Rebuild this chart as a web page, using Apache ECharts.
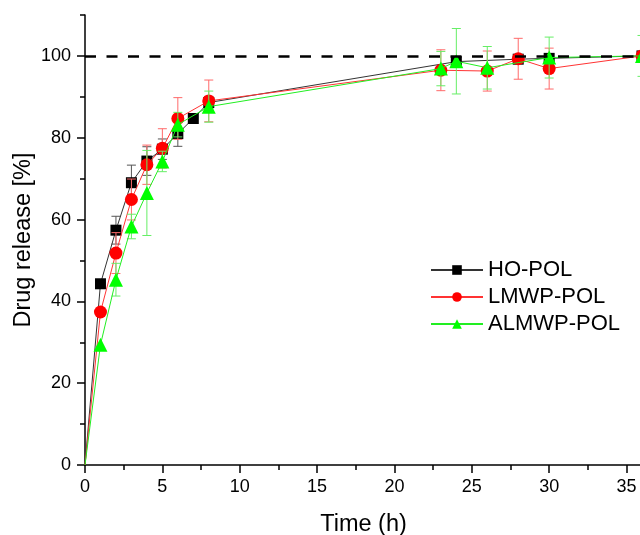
<!DOCTYPE html>
<html>
<head>
<meta charset="UTF-8" />
<title>Drug release</title>
<script src="https://cdn.jsdelivr.net/npm/echarts@6/dist/echarts.min.js"></script>
</head>
<body style="margin:0;padding:0;">
<div id="chart" style="width:640px;height:535px;"></div>
<script>
// values
var hoTime   = [0, 1, 2, 3, 4, 5, 6, 7, 8, 24, 28, 30, 36];
var hoValue  = [0, 44.3, 57.4, 69.0, 74.3, 77.2, 81.0, 84.7, 88.6, 98.6, 99.2, 99.4, 100];
var hoError  = [0, 0, 3.4, 4.3, 3.5, 2.5, 3.1, 0, 1.5, 1, 1, 1, 0];

var lmTime   = [0, 1, 2, 3, 4, 5, 6, 8, 23, 26, 28, 30, 36];
var lmValue  = [0, 37.4, 51.8, 64.9, 73.4, 77.4, 84.7, 89.0, 96.5, 96.3, 99.3, 96.9, 100];
var lmError  = [0, 0, 5, 5, 4.8, 4.8, 5.1, 5.1, 5, 4.9, 5, 5, 0];

var alTime   = [0, 1, 2, 3, 4, 5, 6, 8, 23, 24, 26, 30, 36];
var alValue  = [0, 29.4, 45.3, 58.3, 66.5, 74.2, 83.2, 87.6, 96.9, 98.7, 97.1, 99.6, 100];
var alError  = [0, 0, 4, 3, 10.4, 2.5, 3, 3.8, 4.2, 8, 5.2, 5, 5];

var seriesNames = ['HO-POL', 'LMWP-POL', 'ALMWP-POL'];
var xMajorTicks = [0, 5, 10, 15, 20, 25, 30, 35];
var xMinorTicks = [2.5, 7.5, 12.5, 17.5, 22.5, 27.5, 32.5];
var yMajorTicks = [0, 20, 40, 60, 80, 100];
var yMinorTicks = [10, 30, 50, 70, 90, 110];
var refLevel = 100;

function pairs(t, v) {
  return t.map(function (x, i) { return [x, v[i]]; });
}
function triples(t, v, e) {
  return t.map(function (x, i) { return [x, v[i], e[i]]; });
}
// markers sitting on the origin are clipped away in the original
function sizeOf(s) {
  return function (val) { return val[0] === 0 ? 0 : s; };
}

// draws vertical error bars with caps
function errorBars(color) {
  return function (params, api) {
    var x = api.value(0), y = api.value(1), e = api.value(2);
    if (!e) return null;
    var top = api.coord([x, y + e]);
    var bot = api.coord([x, y - e]);
    var hw = 4.5;
    var st = { stroke: color, lineWidth: 1 };
    return {
      type: 'group',
      children: [
        { type: 'line', shape: { x1: top[0], y1: top[1], x2: bot[0], y2: bot[1] }, style: st },
        { type: 'line', shape: { x1: top[0] - hw, y1: top[1], x2: top[0] + hw, y2: top[1] }, style: st },
        { type: 'line', shape: { x1: bot[0] - hw, y1: bot[1], x2: bot[0] + hw, y2: bot[1] }, style: st }
      ]
    };
  };
}

var chart = echarts.init(document.getElementById('chart'));

var axisLine = { show: true, lineStyle: { color: '#000', width: 1.5 } };

var option = {
  animation: false,
  textStyle: { fontFamily: 'Liberation Sans, Arial, sans-serif' },
  grid: { left: 85, right: -2, top: 15, bottom: 70, outerBoundsMode: 'none', containLabel: false },
  legend: {
    data: seriesNames,
    orient: 'vertical',
    left: 430,
    top: 259,
    padding: 0,
    itemWidth: 52,
    itemHeight: 12,
    itemGap: 5,
    textStyle: { fontSize: 22, color: '#000' }
  },
  xAxis: [{
    type: 'value', min: 0, max: 36,
    name: 'Time (h)', nameLocation: 'middle', nameGap: 48,
    nameTextStyle: { fontSize: 23.5, color: '#000' },
    axisLine: axisLine, splitLine: { show: false },
    axisTick: { show: true, customValues: xMajorTicks, length: 8, lineStyle: { color: '#000', width: 1.5 } },
    axisLabel: { customValues: xMajorTicks, fontSize: 18, color: '#000', margin: 13 }
  }, {
    type: 'value', min: 0, max: 36, position: 'bottom',
    axisLine: { show: false }, splitLine: { show: false },
    axisLabel: { show: false },
    axisTick: { show: true, customValues: xMinorTicks, length: 5, lineStyle: { color: '#000', width: 1.5 } }
  }],
  yAxis: [{
    type: 'value', min: 0, max: 110,
    name: 'Drug release [%]', nameLocation: 'middle', nameGap: 49, nameMoveOverlap: false,
    nameTextStyle: { fontSize: 23.5, color: '#000' },
    axisLine: axisLine, splitLine: { show: false },
    axisTick: { show: true, customValues: yMajorTicks, length: 8, lineStyle: { color: '#000', width: 1.5 } },
    axisLabel: { customValues: yMajorTicks, fontSize: 18, color: '#000', margin: 14 }
  }, {
    type: 'value', min: 0, max: 110, position: 'left',
    axisLine: { show: false }, splitLine: { show: false },
    axisLabel: { show: false },
    axisTick: { show: true, customValues: yMinorTicks, length: 5, lineStyle: { color: '#000', width: 1.5 } }
  }],
  series: [
    {
      type: 'custom', renderItem: errorBars('#555555'), z: 2,
      encode: { x: 0, y: 1 }, data: triples(hoTime, hoValue, hoError), silent: true
    },
    {
      name: seriesNames[0], type: 'line', z: 3,
      symbol: 'rect', symbolSize: sizeOf(11),
      itemStyle: { color: '#000' },
      lineStyle: { color: '#333', width: 1 },
      data: pairs(hoTime, hoValue)
    },
    {
      type: 'custom', renderItem: errorBars('#ff6a6a'), z: 4,
      encode: { x: 0, y: 1 }, data: triples(lmTime, lmValue, lmError), silent: true
    },
    {
      name: seriesNames[1], type: 'line', z: 5,
      symbol: 'circle', symbolSize: sizeOf(13),
      itemStyle: { color: '#ff0000' },
      lineStyle: { color: '#ff3333', width: 1 },
      data: pairs(lmTime, lmValue)
    },
    {
      type: 'custom', renderItem: errorBars('#66ee66'), z: 6,
      encode: { x: 0, y: 1 }, data: triples(alTime, alValue, alError), silent: true
    },
    {
      name: seriesNames[2], type: 'line', z: 7,
      symbol: 'triangle', symbolSize: sizeOf(14),
      itemStyle: { color: '#00ff00' },
      lineStyle: { color: '#22ee22', width: 1 },
      data: pairs(alTime, alValue),
      markLine: {
        silent: true, symbol: 'none', z: 8,
        label: { show: false },
        lineStyle: { color: '#000', type: [11, 10.5], width: 2.5 },
        data: [{ yAxis: refLevel }]
      }
    }
  ]
};

chart.setOption(option);
</script>
</body>
</html>
